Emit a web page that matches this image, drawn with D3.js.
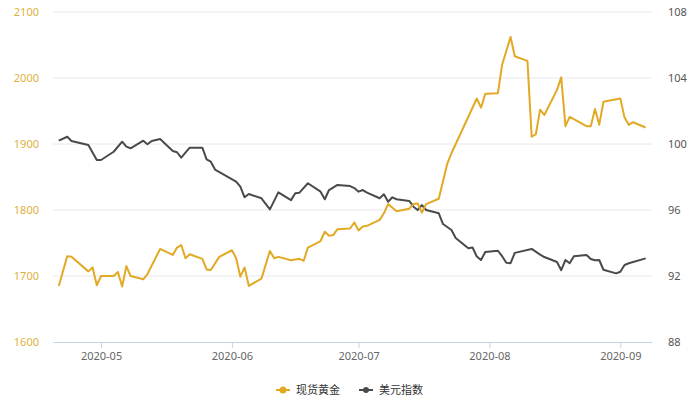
<!DOCTYPE html>
<html>
<head>
<meta charset="utf-8">
<script src="https://cdn.jsdelivr.net/npm/d3@7/dist/d3.min.js"></script>
<style>
  html, body { margin: 0; padding: 0; background: #fff; }
  #root { width: 700px; height: 400px; }
  text { font-family: "Noto Sans CJK SC", "Noto Sans", sans-serif; }
</style>
</head>
<body>
<div id="root"></div>
<script>
// ——— données
const goldDates = [
  "2020-04-21","2020-04-23","2020-04-24","2020-04-28","2020-04-29","2020-04-30",
  "2020-05-01","2020-05-04","2020-05-05","2020-05-06","2020-05-07","2020-05-08",
  "2020-05-11","2020-05-12","2020-05-15","2020-05-18","2020-05-19","2020-05-20",
  "2020-05-21","2020-05-22","2020-05-25","2020-05-26","2020-05-27","2020-05-29",
  "2020-06-01","2020-06-02","2020-06-03","2020-06-04","2020-06-05","2020-06-08",
  "2020-06-10","2020-06-11","2020-06-12","2020-06-15","2020-06-17","2020-06-18",
  "2020-06-19","2020-06-22","2020-06-23","2020-06-24","2020-06-25","2020-06-26",
  "2020-06-29","2020-06-30","2020-07-01","2020-07-02","2020-07-03","2020-07-06",
  "2020-07-07","2020-07-08","2020-07-10","2020-07-13","2020-07-14","2020-07-15",
  "2020-07-16","2020-07-17","2020-07-20","2020-07-22","2020-07-23","2020-07-29",
  "2020-07-30","2020-07-31","2020-08-03","2020-08-04","2020-08-06","2020-08-07",
  "2020-08-10","2020-08-11","2020-08-12","2020-08-13","2020-08-14","2020-08-17",
  "2020-08-18","2020-08-19","2020-08-20","2020-08-24","2020-08-25","2020-08-26",
  "2020-08-27","2020-08-28","2020-09-01","2020-09-02","2020-09-03","2020-09-04",
  "2020-09-07"
];
const goldValues = [
  1685,1730,1729,1707,1713,1686,
  1700,1700,1706,1684,1715,1700,
  1695,1703,1741,1732,1743,1747,
  1727,1733,1726,1710,1709,1729,
  1739,1727,1699,1713,1685,1696,
  1738,1727,1729,1724,1726,1723,
  1743,1753,1767,1761,1762,1771,
  1772,1781,1769,1775,1776,1785,
  1795,1809,1798,1802,1809,1810,
  1796,1809,1817,1870,1886,1969,
  1955,1976,1977,2020,2062,2033,
  2026,1911,1915,1952,1944,1982,
  2001,1927,1941,1927,1927,1953,
  1929,1964,1969,1940,1929,1933,
  1925
];

const usdDates = [
  "2020-04-21","2020-04-23","2020-04-24","2020-04-28","2020-04-30","2020-05-01",
  "2020-05-04","2020-05-06","2020-05-07","2020-05-08","2020-05-11","2020-05-12",
  "2020-05-13","2020-05-15","2020-05-18","2020-05-19","2020-05-20","2020-05-22",
  "2020-05-25","2020-05-26","2020-05-27","2020-05-28","2020-06-02","2020-06-03",
  "2020-06-04","2020-06-05","2020-06-08","2020-06-10","2020-06-12","2020-06-15",
  "2020-06-16","2020-06-17","2020-06-19","2020-06-22","2020-06-23","2020-06-24",
  "2020-06-26","2020-06-29","2020-06-30","2020-07-01","2020-07-02","2020-07-03",
  "2020-07-06","2020-07-07","2020-07-08","2020-07-09","2020-07-10","2020-07-13",
  "2020-07-14","2020-07-15","2020-07-16","2020-07-17","2020-07-20","2020-07-21",
  "2020-07-23","2020-07-24","2020-07-27","2020-07-28","2020-07-29","2020-07-30",
  "2020-07-31","2020-08-03","2020-08-04","2020-08-05","2020-08-06","2020-08-07",
  "2020-08-11","2020-08-13","2020-08-14","2020-08-17","2020-08-18","2020-08-19",
  "2020-08-20","2020-08-21","2020-08-24","2020-08-25","2020-08-26","2020-08-27",
  "2020-08-28","2020-08-31","2020-09-01","2020-09-02","2020-09-03","2020-09-07"
];
const usdValues = [
  100.20,100.44,100.18,99.94,99.03,99.03,
  99.53,100.14,99.84,99.74,100.20,99.98,
  100.18,100.30,99.58,99.50,99.17,99.78,
  99.78,99.07,98.93,98.45,97.72,97.41,
  96.77,96.97,96.71,96.04,97.07,96.60,
  97.01,97.05,97.62,97.11,96.65,97.21,
  97.52,97.45,97.33,97.11,97.21,97.05,
  96.71,96.95,96.50,96.77,96.65,96.55,
  96.20,96.00,96.30,96.00,95.80,95.15,
  94.79,94.30,93.68,93.73,93.18,92.97,
  93.45,93.53,93.20,92.80,92.78,93.40,
  93.64,93.30,93.15,92.85,92.35,92.97,
  92.77,93.20,93.27,93.03,92.95,92.97,
  92.38,92.16,92.26,92.67,92.77,93.07
];

const xTickDates = ["2020-05-01","2020-06-01","2020-07-01","2020-08-01","2020-09-01"];
const goldTicks = [1600, 1700, 1800, 1900, 2000, 2100];
const usdTicks = [88, 92, 96, 100, 104, 108];
const seriesNames = ["现货黄金", "美元指数"];

// ——— style
const GOLD = "#e2a925";
const USD = "#4a4a4a";

const parse = d3.utcParse("%Y-%m-%d");
const width = 700, height = 400;
const margin = { top: 12, right: 48, bottom: 58, left: 53 };
const innerW = width - margin.left - margin.right;
const innerH = height - margin.top - margin.bottom;

const svg = d3.select("#root").append("svg")
  .attr("width", width).attr("height", height);
const g = svg.append("g").attr("transform", `translate(${margin.left},${margin.top})`);

const x = d3.scaleUtc()
  .domain([new Date(Date.UTC(2020, 3, 19, 15)), new Date(Date.UTC(2020, 8, 8, 12))])
  .range([0, innerW]);
const yL = d3.scaleLinear().domain([1600, 2100]).range([innerH, 0]);
const yR = d3.scaleLinear().domain([88, 108]).range([innerH, 0]);

// grille horizontale
g.append("g")
  .selectAll("line")
  .data(goldTicks.slice(1))
  .join("line")
  .attr("x1", 0).attr("x2", innerW)
  .attr("y1", d => yL(d)).attr("y2", d => yL(d))
  .attr("stroke", "#e8e8e8").attr("stroke-width", 1);

// axe x
const xAxis = g.append("g")
  .attr("transform", `translate(0,${innerH})`)
  .call(d3.axisBottom(x)
    .tickValues(xTickDates.map(parse))
    .tickFormat(d3.utcFormat("%Y-%m"))
    .tickSize(6).tickSizeOuter(0).tickPadding(4));
xAxis.select(".domain").attr("stroke", "#c4d4e8");
xAxis.selectAll(".tick line").attr("stroke", "#c4d4e8");
xAxis.selectAll(".tick text").attr("fill", "#666").style("font-size", "11px")
  .style("font-family", "'Noto Sans', sans-serif");

// axe gauche
const yAxisL = g.append("g")
  .call(d3.axisLeft(yL).tickValues(goldTicks).tickFormat(d3.format("d"))
    .tickSize(0).tickPadding(14));
yAxisL.select(".domain").remove();
yAxisL.selectAll("text").attr("fill", "#dfb040").style("font-size", "11px")
  .style("font-family", "'Noto Sans', sans-serif");

// axe droit
const yAxisR = g.append("g")
  .attr("transform", `translate(${innerW},0)`)
  .call(d3.axisRight(yR).tickValues(usdTicks).tickFormat(d3.format("d"))
    .tickSize(0).tickPadding(16));
yAxisR.select(".domain").remove();
yAxisR.selectAll("text").attr("fill", "#555").style("font-size", "11px")
  .style("font-family", "'Noto Sans', sans-serif");

// courbes
const goldData = goldDates.map((d, i) => ({ date: parse(d), v: goldValues[i] }));
const usdData = usdDates.map((d, i) => ({ date: parse(d), v: usdValues[i] }));

g.append("path")
  .datum(usdData)
  .attr("fill", "none").attr("stroke", USD).attr("stroke-width", 2)
  .attr("stroke-linejoin", "round")
  .attr("d", d3.line().x(d => x(d.date)).y(d => yR(d.v)));

g.append("path")
  .datum(goldData)
  .attr("fill", "none").attr("stroke", GOLD).attr("stroke-width", 2)
  .attr("stroke-linejoin", "round")
  .attr("d", d3.line().x(d => x(d.date)).y(d => yL(d.v)));

// légende
const legend = svg.append("g").attr("transform", "translate(0,390)");
const items = [
  { name: seriesNames[0], color: GOLD, x: 276, r: 3.5 },
  { name: seriesNames[1], color: USD, x: 359, r: 3 }
];
const li = legend.selectAll("g").data(items).join("g")
  .attr("transform", d => `translate(${d.x},0)`);
li.append("line").attr("x1", 0).attr("x2", 14).attr("y1", 0).attr("y2", 0)
  .attr("stroke", d => d.color).attr("stroke-width", 2);
li.append("circle").attr("cx", 7).attr("cy", 0).attr("r", d => d.r)
  .attr("fill", d => d.color);
li.append("text").attr("x", 20).attr("y", 0).attr("dy", "0.35em")
  .attr("fill", "#333").style("font-size", "11px")
  .text(d => d.name);
</script>
</body>
</html>
